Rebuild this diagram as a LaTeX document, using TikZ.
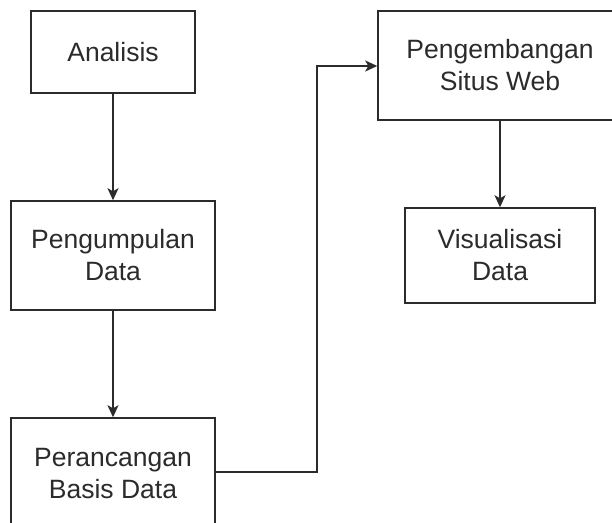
\documentclass[tikz,border=0pt]{standalone}
\usepackage{fontspec}
\setmainfont{Liberation Sans}
\usetikzlibrary{arrows.meta}
\definecolor{ln}{HTML}{2B2B2B}
\begin{document}
\begin{tikzpicture}[x=1pt,y=-1pt,
  box/.style={draw=ln,line width=1.5pt,fill=white,align=center,text=ln,
    font=\fontsize{26.5}{32}\selectfont,inner sep=0pt},
  conn/.style={draw=ln,line width=1.5pt,-{Stealth[length=12pt,width=11pt,inset=3pt]}}]
\useasboundingbox (0,0) rectangle (612,522);
\begin{scope}
\clip (0,0) rectangle (612,522);
\node[box,minimum width=164pt,minimum height=82pt] (a) at (113,52) {Analisis};
\node[box,minimum width=204pt,minimum height=109pt] (b) at (113,255.5) {Pengumpulan\\Data};
\node[box,minimum width=204pt,minimum height=110pt,text depth=0pt] (c) at (113,473) {Perancangan\\Basis Data};
\node[box,minimum width=244pt,minimum height=109pt] (d) at (500,65.5) {Pengembangan\\Situs Web};
\node[box,minimum width=190pt,minimum height=95pt] (e) at (500,255.5) {Visualisasi\\Data};
\end{scope}
\draw[conn] (a) -- (b);
\draw[conn] (b) -- (c);
\draw[conn] (c.east |- 0,472) -| (317,66) -- (d.west |- 0,66);
\draw[conn] (d) -- (e);
\end{tikzpicture}
\end{document}
